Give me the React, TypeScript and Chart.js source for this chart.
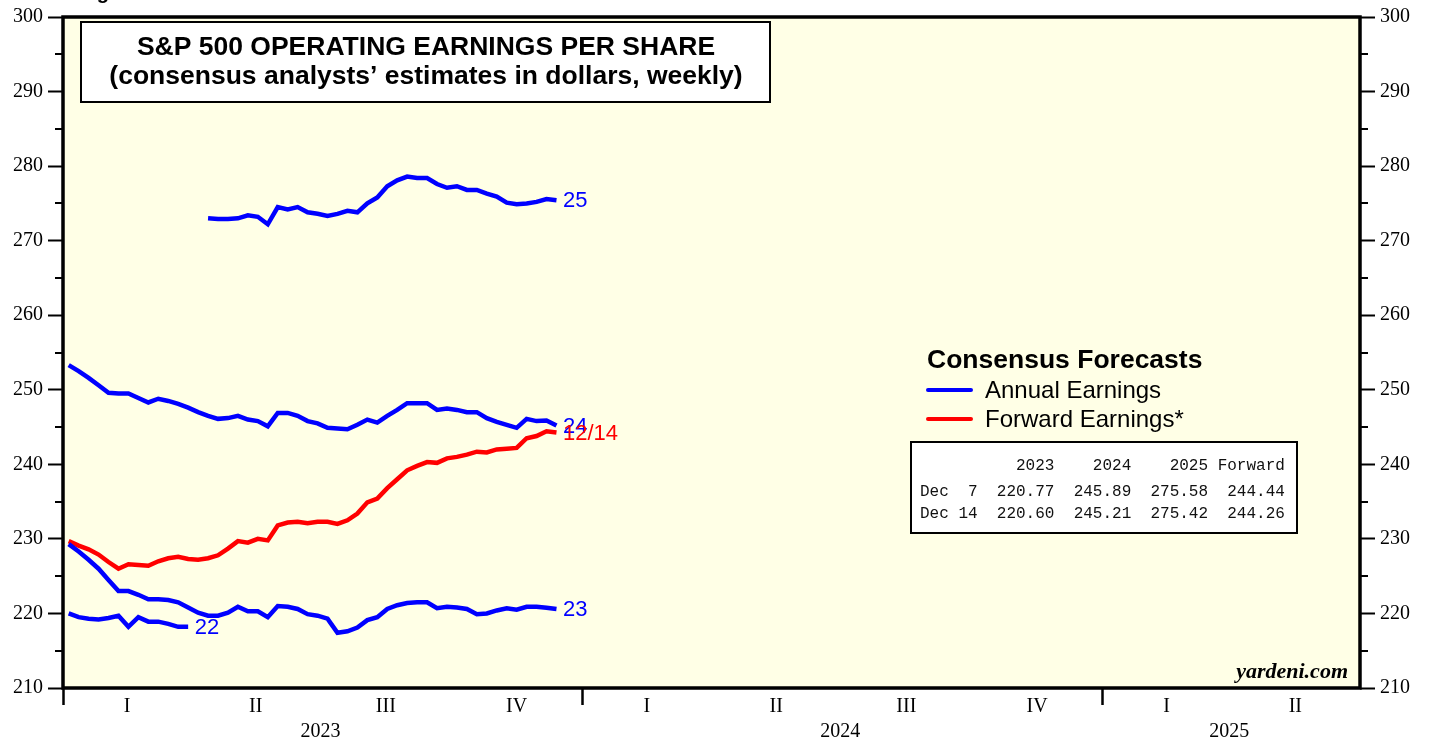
import React, { useEffect, useRef } from "react";
import { Chart, registerables } from "chart.js";

Chart.register(...registerables);

// ---------- DATA ----------
const weekDates = [
  "2023-01-05", "2023-01-12", "2023-01-19", "2023-01-26",
  "2023-02-02", "2023-02-09", "2023-02-16", "2023-02-23",
  "2023-03-02", "2023-03-09", "2023-03-16", "2023-03-23", "2023-03-30",
  "2023-04-06", "2023-04-13", "2023-04-20", "2023-04-27",
  "2023-05-04", "2023-05-11", "2023-05-18", "2023-05-25",
  "2023-06-01", "2023-06-08", "2023-06-15", "2023-06-22", "2023-06-29",
  "2023-07-06", "2023-07-13", "2023-07-20", "2023-07-27",
  "2023-08-03", "2023-08-10", "2023-08-17", "2023-08-24", "2023-08-31",
  "2023-09-07", "2023-09-14", "2023-09-21", "2023-09-28",
  "2023-10-05", "2023-10-12", "2023-10-19", "2023-10-26",
  "2023-11-02", "2023-11-09", "2023-11-16", "2023-11-23", "2023-11-30",
  "2023-12-07", "2023-12-14",
];

// Annual 2022 estimate (ends when actuals came in)
const eps2022 = [
  220.0, 219.5, 219.3, 219.2, 219.4, 219.7, 218.2, 219.5, 218.9, 218.9, 218.6, 218.2, 218.2,
];

const eps2023 = [
  229.3, 228.3, 227.2, 226.0, 224.5, 223.0, 223.0, 222.5, 221.9, 221.9,
  221.8, 221.5, 220.8, 220.1, 219.7, 219.7, 220.1, 220.9, 220.3, 220.3,
  219.5, 221.0, 220.9, 220.6, 219.9, 219.7, 219.3, 217.4, 217.6, 218.1,
  219.1, 219.5, 220.6, 221.1, 221.4, 221.5, 221.5, 220.7, 220.9, 220.8,
  220.6, 219.9, 220.0, 220.4, 220.7, 220.5, 220.9, 220.9, 220.77, 220.6,
];

const eps2024 = [
  253.3, 252.5, 251.6, 250.6, 249.6, 249.5, 249.5, 248.9, 248.3, 248.8,
  248.5, 248.1, 247.6, 247.0, 246.5, 246.1, 246.2, 246.5, 246.0, 245.8,
  245.1, 246.9, 246.9, 246.5, 245.8, 245.5, 244.9, 244.8, 244.7, 245.3,
  246.0, 245.6, 246.5, 247.3, 248.2, 248.2, 248.2, 247.3, 247.5, 247.3,
  247.0, 247.0, 246.2, 245.7, 245.3, 244.9, 246.1, 245.8, 245.89, 245.21,
];

// starts with the week of 2023-04-13 (index 14)
const eps2025Start = 14;
const eps2025 = [
  273.0, 272.9, 272.9, 273.0, 273.4, 273.2, 272.2, 274.5, 274.2, 274.5,
  273.8, 273.6, 273.3, 273.6, 274.0, 273.8, 275.0, 275.8, 277.3, 278.1,
  278.6, 278.4, 278.4, 277.6, 277.1, 277.3, 276.8, 276.8, 276.3, 275.9,
  275.1, 274.9, 275.0, 275.2, 275.58, 275.42,
];

const forwardEps = [
  229.7, 229.1, 228.6, 227.9, 226.9, 226.0, 226.6, 226.5, 226.4, 227.0,
  227.4, 227.6, 227.3, 227.2, 227.4, 227.8, 228.7, 229.7, 229.5, 230.0,
  229.8, 231.8, 232.2, 232.3, 232.1, 232.3, 232.3, 232.0, 232.5, 233.4,
  234.9, 235.4, 236.8, 238.0, 239.2, 239.8, 240.3, 240.2, 240.8, 241.0,
  241.3, 241.7, 241.6, 242.0, 242.1, 242.2, 243.5, 243.8, 244.44, 244.26,
];

const seriesEndLabels = ["22", "23", "24", "25", "12/14"];

const axisStart = "2023-01-01";
const axisEnd = "2025-07-01";
const yearStarts = ["2023-01-01", "2024-01-01", "2025-01-01"];
const yearLabels = ["2023", "2024", "2025"];
const quarterLabels = ["I", "II", "III", "IV"];
const quarterStartMonths = ["01-01", "04-01", "07-01", "10-01"];

const yMin = 210;
const yMax = 300;
const yMajorStep = 10;

const titleLines = [
  "S&P 500 OPERATING EARNINGS PER SHARE",
  "(consensus analysts\u2019 estimates in dollars, weekly)",
];
const legendTitle = "Consensus Forecasts";
const legendItems = ["Annual Earnings", "Forward Earnings*"];
const tableHeader = "          2023    2024    2025 Forward";
const tableRows = [
  "Dec  7  220.77  245.89  275.58  244.44",
  "Dec 14  220.60  245.21  275.42  244.26",
];
const sourceText = "yardeni.com";

// ---------- HELPERS ----------
const BLUE = "#0000FF";
const RED = "#FF0000";
const BG = "#FFFFE6";
const SERIF = "'Liberation Serif', 'Times New Roman', serif";
const SANS = "'Liberation Sans', Arial, sans-serif";
const MONO = "'Liberation Mono', 'Courier New', monospace";

const dayOf = (iso: string) => {
  const [y, m, d] = iso.split("-").map(Number);
  return (Date.UTC(y, m - 1, d) - Date.UTC(2023, 0, 1)) / 86400000;
};

const toPoints = (vals: number[], startIdx = 0) =>
  vals.map((v, i) => ({ x: dayOf(weekDates[startIdx + i]), y: v }));

export default function App() {
  const canvasRef = useRef<HTMLCanvasElement | null>(null);

  useEffect(() => {
    const canvas = canvasRef.current;
    if (!canvas) return;

    const mkLine = (label: string, vals: number[], color: string, startIdx = 0) => ({
      label,
      data: toPoints(vals, startIdx),
      borderColor: color,
      backgroundColor: color,
      borderWidth: 4.5,
      pointRadius: 0,
      tension: 0,
      fill: false,
      yAxisID: "y",
      xAxisID: "x",
    });

    const decor = {
      id: "decor",
      beforeDraw(chart: any) {
        const { ctx, chartArea } = chart;
        ctx.save();
        ctx.fillStyle = "#FFFFFF";
        ctx.fillRect(0, 0, chart.width, chart.height);
        ctx.fillStyle = BG;
        ctx.fillRect(chartArea.left, chartArea.top, chartArea.right - chartArea.left, chartArea.bottom - chartArea.top);
        // clipped heading above the chart
        ctx.fillStyle = "#000";
        ctx.font = `bold 20px ${SANS}`;
        ctx.textBaseline = "alphabetic";
        ctx.textAlign = "left";
        ctx.fillText("Figure 1", 79, -1);
        ctx.restore();
      },
      afterDraw(chart: any) {
        const { ctx, chartArea, scales } = chart;
        const xs = scales.x;
        const ys = scales.y;
        const { left, right, top, bottom } = chartArea;
        ctx.save();

        // minor y ticks
        ctx.strokeStyle = "#000";
        ctx.lineWidth = 2;
        for (let v = yMin + yMajorStep / 2; v < yMax; v += yMajorStep) {
          const py = Math.round(ys.getPixelForValue(v));
          ctx.beginPath();
          ctx.moveTo(left - 8, py);
          ctx.lineTo(left, py);
          ctx.moveTo(right, py);
          ctx.lineTo(right + 8, py);
          ctx.stroke();
        }

        // frame
        ctx.lineWidth = 3.5;
        ctx.strokeRect(left, top, right - left, bottom - top);

        // quarter & year labels
        const endDay = dayOf(axisEnd);
        ctx.fillStyle = "#000";
        ctx.font = `20px ${SERIF}`;
        ctx.textAlign = "center";
        ctx.textBaseline = "middle";
        yearLabels.forEach((yl, yi) => {
          const ys0 = dayOf(yearStarts[yi]);
          const nextYear = `${Number(yl) + 1}-01-01`;
          quarterStartMonths.forEach((qm, qi) => {
            const qs = dayOf(`${yl}-${qm}`);
            const qe = qi < 3 ? dayOf(`${yl}-${quarterStartMonths[qi + 1]}`) : dayOf(nextYear);
            if (qs >= endDay) return;
            const mid = (qs + Math.min(qe, endDay)) / 2;
            ctx.fillText(quarterLabels[qi], xs.getPixelForValue(mid), 707);
          });
          const ye = Math.min(dayOf(nextYear), endDay);
          ctx.fillText(yl, xs.getPixelForValue((ys0 + ye) / 2) - 2, 732);
        });

        // title box
        ctx.fillStyle = "#FFFFFF";
        ctx.fillRect(81, 22, 689, 80);
        ctx.lineWidth = 2;
        ctx.strokeRect(81, 22, 689, 80);
        ctx.fillStyle = "#000";
        ctx.font = `bold 26.5px ${SANS}`;
        ctx.fillText(titleLines[0], 426, 48);
        ctx.fillText(titleLines[1], 426, 77);

        // legend
        ctx.textAlign = "left";
        ctx.font = `bold 26.5px ${SANS}`;
        ctx.fillText(legendTitle, 927, 361);
        ctx.font = `24px ${SANS}`;
        [BLUE, RED].forEach((c, i) => {
          const ly = 390 + i * 29;
          ctx.strokeStyle = c;
          ctx.lineWidth = 4;
          ctx.lineCap = "round";
          ctx.beginPath();
          ctx.moveTo(928, ly);
          ctx.lineTo(971, ly);
          ctx.stroke();
          ctx.fillStyle = "#000";
          ctx.fillText(legendItems[i], 985, ly + 1);
        });
        ctx.lineCap = "butt";

        // table
        ctx.fillStyle = "#FFFFFF";
        ctx.fillRect(911, 442, 386, 91);
        ctx.strokeStyle = "#000";
        ctx.lineWidth = 2;
        ctx.strokeRect(911, 442, 386, 91);
        ctx.fillStyle = "#111";
        ctx.font = `16px ${MONO}`;
        ctx.fillText(tableHeader, 920, 466);
        ctx.fillText(tableRows[0], 920, 492);
        ctx.fillText(tableRows[1], 920, 514);

        // series end labels
        const ds = chart.data.datasets;
        ctx.font = `22px ${SANS}`;
        ds.forEach((d: any, i: number) => {
          const last = d.data[d.data.length - 1];
          ctx.fillStyle = d.borderColor;
          ctx.fillText(seriesEndLabels[i], xs.getPixelForValue(last.x) + 6.5, ys.getPixelForValue(last.y) + 1);
        });

        // source
        ctx.textAlign = "right";
        ctx.fillStyle = "#000";
        ctx.font = `italic bold 22px ${SERIF}`;
        ctx.fillText(sourceText, 1348, 672);

        ctx.restore();
      },
    };

    const yAxisCommon = (position: "left" | "right", width: number) => ({
      type: "linear" as const,
      position,
      min: yMin,
      max: yMax,
      ticks: {
        stepSize: yMajorStep,
        color: "#000",
        padding: 5,
        font: { family: SERIF, size: 20 },
      },
      grid: {
        drawOnChartArea: false,
        drawTicks: true,
        tickLength: 15,
        tickWidth: 2,
        tickColor: "#000",
      },
      border: { display: false },
      afterFit: (scale: any) => {
        scale.width = width;
      },
    });

    const chart = new Chart(canvas, {
      type: "line",
      data: {
        datasets: [
          mkLine("2022", eps2022, BLUE),
          mkLine("2023", eps2023, BLUE),
          mkLine("2024", eps2024, BLUE),
          mkLine("2025", eps2025, BLUE, eps2025Start),
          mkLine("Forward", forwardEps, RED),
        ],
      },
      options: {
        responsive: false,
        maintainAspectRatio: false,
        devicePixelRatio: 1,
        animation: false,
        layout: { padding: { top: 15, left: 0, right: 0, bottom: 0 } },
        plugins: {
          legend: { display: false },
          tooltip: { enabled: false },
          title: { display: false },
        },
        scales: {
          x: {
            type: "linear",
            position: "bottom",
            min: dayOf(axisStart),
            max: dayOf(axisEnd),
            afterBuildTicks: (scale: any) => {
              scale.ticks = yearStarts.map((d) => ({ value: dayOf(d) }));
            },
            ticks: {
              autoSkip: false,
              maxRotation: 0,
              callback: () => "",
            },
            grid: {
              drawOnChartArea: false,
              drawTicks: true,
              tickLength: 17,
              tickWidth: 2.5,
              tickColor: "#000",
            },
            border: { display: false },
            afterFit: (scale: any) => {
              scale.height = 56;
            },
          },
          y: yAxisCommon("left", 63),
          y2: yAxisCommon("right", 69),
        },
      },
      plugins: [decor],
    });

    return () => chart.destroy();
  }, []);

  return (
    <div style={{ position: "absolute", left: 0, top: 0, width: 1429, height: 744 }}>
      <canvas ref={canvasRef} width={1429} height={744} style={{ display: "block" }} />
    </div>
  );
}
